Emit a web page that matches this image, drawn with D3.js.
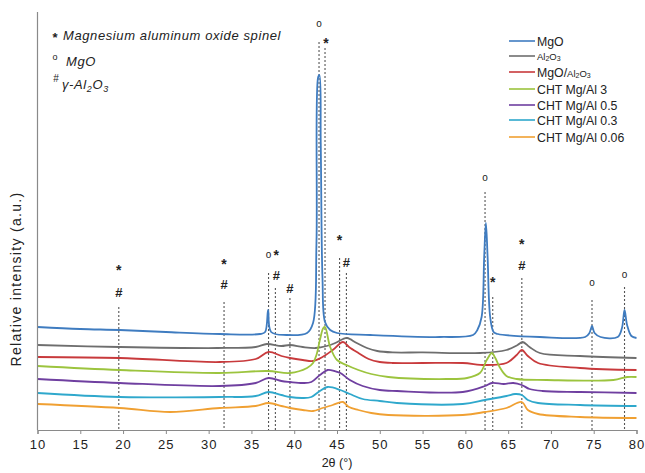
<!DOCTYPE html>
<html><head><meta charset="utf-8">
<script src="https://cdn.jsdelivr.net/npm/d3@7"></script>
<style>
body{margin:0;background:#fff;}
svg{display:block;font-family:"Liberation Sans",Arial,sans-serif;}
</style></head>
<body><svg id="c" width="645" height="473"></svg>
<script>
// ---- data (2θ, relative intensity a.u.) ----
const xTicks = [10,15,20,25,30,35,40,45,50,55,60,65,70,75,80];
const seriesNames = ["MgO","Al2O3","MgO/Al2O3","CHT Mg/Al 3","CHT Mg/Al 0.5","CHT Mg/Al 0.3","CHT Mg/Al 0.06"];
const seriesColors = ["#3f7cc0","#6e6e6e","#c83a3c","#9cc43e","#6f3fa0","#2fa8cc","#f0a032"];
const mgo = [[10,51.5],[15,50.5],[19.6,50],[25,49],[31.3,48],[36,48],[36.6,49],[36.95,60],[37.3,49],[39.1,47.5],[41.5,48.5],[42.2,53.5],[42.6,93.5],[42.8,176.5],[42.95,177.5],[43.1,143.5],[43.3,76.5],[43.6,54],[44.2,50],[45,48.5],[48.9,47.5],[57,46.5],[60.9,47.5],[61.4,50],[61.9,56.5],[62.2,86.5],[62.4,103.5],[62.6,86.5],[62.9,56.5],[63.3,49],[63.8,48],[68.7,46.5],[74,46.5],[74.5,48.5],[74.8,52],[75.1,48.5],[75.8,46.5],[77.8,46.5],[78.3,51],[78.6,60],[78.9,52.5],[79.4,47],[80,46]];
const al2o3 = [[10,42.5],[19.6,41.5],[31,41],[35.5,41.5],[36.8,43],[38.5,42],[39.5,42.5],[41,41.5],[42.5,41],[43.8,42],[44.8,43.5],[45.7,45.5],[46.2,46],[47.3,43.5],[48.5,41],[49.7,39.5],[51.5,38.8],[55,38.8],[61.7,38.5],[64.8,40],[66.1,42.5],[66.7,44],[67.5,41.5],[68.7,38.5],[73.4,37],[80,36]];
const mgoAl2o3 = [[10,36.5],[19.6,36],[31.3,34],[35.5,35.5],[37,39],[38.5,37],[39.5,36],[41,35],[42.2,34.5],[43.3,36.5],[44.5,40],[45.7,44],[46.4,41.5],[47.5,38.5],[48.7,35.5],[50,34],[51.5,33.5],[55,33.5],[59.7,33.5],[62.3,32.5],[64.8,33.5],[66,37.5],[66.6,40],[67.3,37],[68.5,33.5],[73.4,31],[80,30]];
const cht3 = [[10,32],[19.6,30],[31.3,28.5],[36.9,29.5],[39.5,28.5],[41.5,31],[42.2,33.5],[42.6,37.5],[43,45],[43.4,51],[43.6,51.5],[44.2,41.5],[45,35],[46.1,32.5],[47.5,30],[49,28],[51,26.5],[57.8,25.5],[60.2,26],[61.7,28.5],[62.5,35],[63.1,38.5],[63.5,36],[64,31.5],[64.8,27],[66,25.5],[69.5,25],[77.3,25],[78.9,26.5],[80,26.5]];
const cht05 = [[10,25.5],[19.6,23.5],[31.3,22],[35.5,23.5],[37,26],[38.5,24.5],[39.5,24],[41,23.5],[42,24],[43,27.5],[43.9,30],[44.7,29.5],[45.4,28.5],[46.5,25],[48,22],[50,20],[52,19.5],[59.7,19],[62.3,22],[63.1,23.5],[64.5,23],[65.6,23.5],[66.6,22.5],[67.5,20.5],[69,19.5],[73.4,19],[80,18.5]];
const cht03 = [[10,18.5],[19.6,16.5],[31.3,16.5],[35.5,17],[37,19],[38.5,17.5],[39.5,16.5],[41,16],[42,16.5],[43,19.5],[43.9,21.5],[45.4,20],[46.5,18],[48,15.5],[50,14.5],[52,13.5],[59.7,13],[62.3,15],[64.8,17],[65.8,18],[66.6,17.5],[67.3,15],[68.5,13.5],[73.4,12.5],[80,12]];
const cht006 = [[10,13],[19.6,11],[25.5,9],[31.3,11],[35.5,12],[37,13.5],[38.5,12],[39.5,11],[41,10],[42.2,9.5],[43.3,11],[44.5,12.5],[45.7,14],[46.4,11.5],[47.5,10],[49,8.5],[51,7.5],[59.7,7.5],[62.3,9],[64.8,11],[66.6,14],[67.3,10],[68.5,8],[73.4,6.5],[80,6]];
const seriesData = [mgo, al2o3, mgoAl2o3, cht3, cht05, cht03, cht006];
// reference lines: [2θ, top intensity]
const refLines = [[19.5,61.5],[31.8,64],[37.0,78.5],[37.8,71],[39.5,66],[42.9,194],[43.6,191],[45.3,86],[46.1,78.5],[62.3,119],[63.2,66.5],[66.6,76],[74.8,65],[78.6,71.5]];
// phase markers: [2θ, intensity, symbol]
const markers = [[19.5,81,"*"],[19.5,69,"#"],[31.8,84,"*"],[31.8,73,"#"],[37.0,87.5,"o"],[37.9,88.5,"*"],[37.9,77.5,"#"],[39.5,71,"#"],[42.9,203,"o"],[43.7,194.5,"*"],[45.3,96,"*"],[46.1,84,"#"],[62.3,126,"o"],[63.2,75,"*"],[66.6,94,"*"],[66.6,82.5,"#"],[74.8,73.5,"o"],[78.6,77.5,"o"]];

// ---- drawing ----
const svg = d3.select("#c");
const x = d3.scaleLinear().domain([10,80]).range([37.5,636.5]);
const y = d3.scaleLinear().domain([0,209]).range([430,12]);

svg.append("g").selectAll("line").data(refLines).join("line")
  .attr("x1",d=>x(d[0])).attr("x2",d=>x(d[0]))
  .attr("y1",d=>y(d[1])).attr("y2",y(0))
  .attr("stroke","#555").attr("stroke-width",1.1).attr("stroke-dasharray","2,2");

const line = d3.line().x(d=>x(d[0])).y(d=>y(d[1])).curve(d3.curveCatmullRom.alpha(0.5));
svg.append("g").selectAll("path").data(seriesData).join("path")
  .attr("d",line).attr("fill","none")
  .attr("stroke",(d,i)=>seriesColors[i]).attr("stroke-width",1.8).attr("stroke-linejoin","round");

const xAxis = d3.axisBottom(x).tickValues(xTicks).tickSize(4).tickPadding(6);
const gx = svg.append("g").attr("transform",`translate(0,${y(0)})`).call(xAxis);
gx.select(".domain").attr("stroke","#8a8a8a").attr("stroke-width",1.2);
gx.selectAll(".tick line").attr("stroke","#8a8a8a");
gx.selectAll(".tick text").attr("font-size",13).attr("fill","#222").attr("letter-spacing","1px")
  .attr("font-family","'Liberation Sans',Arial,sans-serif");
svg.append("line").attr("x1",x(10)).attr("x2",x(10)).attr("y1",y(209)).attr("y2",y(0))
  .attr("stroke","#8a8a8a").attr("stroke-width",1.2);

svg.append("text").attr("x",(x(10)+x(80))/2).attr("y",467).attr("text-anchor","middle")
  .attr("font-size",12.5).attr("fill","#222").text("2θ (°)");
svg.append("text").attr("transform","translate(21,279) rotate(-90)").attr("text-anchor","middle")
  .attr("font-size",14).attr("letter-spacing","1.3px").attr("fill","#222").text("Relative intensity (a.u.)");

const mk = svg.append("g").attr("fill","#222").attr("text-anchor","middle");
markers.forEach(m=>{
  const t = mk.append("text").attr("x",x(m[0])).text(m[2]);
  if(m[2]==="*") t.attr("y",y(m[1])+7).attr("font-size",14).attr("font-weight","bold");
  else if(m[2]==="#") t.attr("y",y(m[1])+5).attr("font-size",13).attr("font-weight","bold");
  else t.attr("y",y(m[1])+2.5).attr("font-size",10);
});

const key = svg.append("g").attr("fill","#222");
key.append("text").attr("x",55).attr("y",42).attr("font-size",13).attr("font-weight","bold").attr("text-anchor","middle").text("*");
key.append("text").attr("x",63).attr("y",40).attr("font-size",13).attr("letter-spacing","0.6px").attr("font-style","italic").text("Magnesium aluminum oxide spinel");
key.append("text").attr("x",55).attr("y",60).attr("font-size",9).attr("text-anchor","middle").text("o");
key.append("text").attr("x",66).attr("y",66).attr("font-size",13).attr("letter-spacing","0.6px").attr("font-style","italic").text("MgO");
key.append("text").attr("x",56).attr("y",82).attr("font-size",10).attr("text-anchor","middle").text("#");
const g3 = key.append("text").attr("x",62).attr("y",89).attr("font-size",13).attr("letter-spacing","0.6px").attr("font-style","italic");
g3.append("tspan").text("γ-Al");
g3.append("tspan").attr("font-size",9).attr("dy",3).text("2");
g3.append("tspan").attr("dy",-3).text("O");
g3.append("tspan").attr("font-size",9).attr("dy",3).text("3");

const legY = [41,56,72,89,105,120,137];
const lg = svg.append("g");
seriesNames.forEach((n,i)=>{
  lg.append("line").attr("x1",509).attr("x2",535).attr("y1",legY[i]).attr("y2",legY[i])
    .attr("stroke",seriesColors[i]).attr("stroke-width",1.6);
  const t = lg.append("text").attr("x",537).attr("y",legY[i]+4.5).attr("font-size",12.3).attr("fill","#222");
  if(n==="Al2O3"){
    t.attr("font-size",9.5).attr("y",legY[i]+3.5);
    t.append("tspan").text("Al");t.append("tspan").attr("font-size",7).attr("dy",1.5).text("2");
    t.append("tspan").attr("dy",-1.5).text("O");t.append("tspan").attr("font-size",7).attr("dy",1.5).text("3");
  } else if(n==="MgO/Al2O3"){
    t.append("tspan").text("MgO/");
    t.append("tspan").attr("font-size",9.5).text("Al");t.append("tspan").attr("font-size",7).attr("dy",1.5).text("2");
    t.append("tspan").attr("font-size",9.5).attr("dy",-1.5).text("O");t.append("tspan").attr("font-size",7).attr("dy",1.5).text("3");
  } else t.text(n);
});
</script></body></html>
